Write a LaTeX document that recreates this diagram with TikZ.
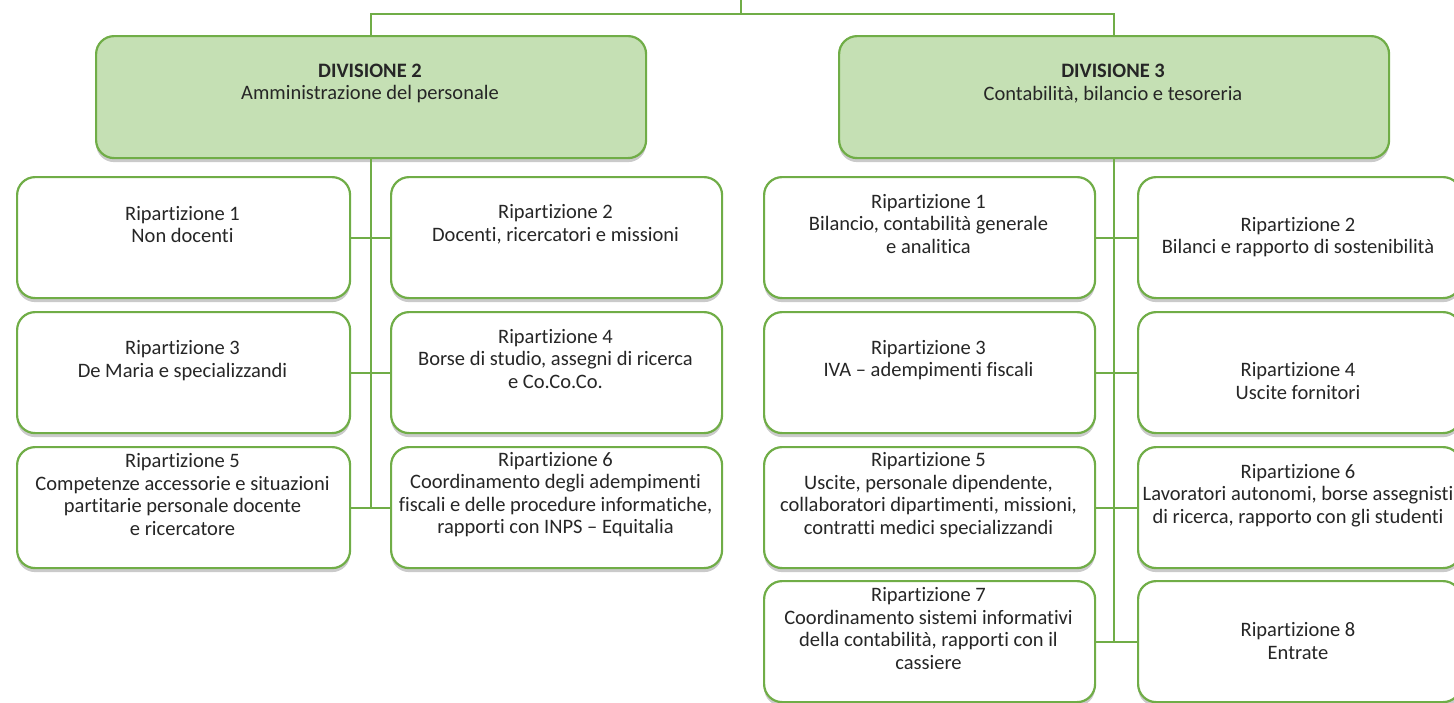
\documentclass[tikz,border=0pt]{standalone}
\usepackage{fontspec}
\setmainfont{Carlito}[Ligatures={NoCommon}]
\usetikzlibrary{shadows}
\definecolor{gborder}{HTML}{70AD47}
\definecolor{gfill}{HTML}{C5E0B4}
\definecolor{txt}{HTML}{262626}
\tikzset{
 boxbase/.style={draw=gborder, line width=2.2pt, rounded corners=18pt,
   drop shadow={shadow xshift=0pt, shadow yshift=-4pt, opacity=0.35, fill=black!60},
   anchor=north west, inner sep=0pt},
 divbox/.style={boxbase, fill=gfill},
 ripbox/.style={boxbase, fill=white},
 lbl/.style={align=center, font=\fontsize{20.5}{22.5}\selectfont, text=txt, inner sep=0pt},
 conn/.style={draw=gborder, line width=2pt}
}
\begin{document}
\begin{tikzpicture}[x=1pt,y=-1pt]
\useasboundingbox (0,0) rectangle (1454,702);
\clip (0,0) rectangle (1454,702);
% boxes
\node[divbox, minimum width=550pt, minimum height=122pt] (D2) at (95,35) {};
\node[divbox, minimum width=550pt, minimum height=122pt] (D3) at (838,35) {};
\node[ripbox, minimum width=333pt, minimum height=121pt] (L1) at (16,176) {};
\node[ripbox, minimum width=331pt, minimum height=121pt] (L2) at (390,176) {};
\node[ripbox, minimum width=333pt, minimum height=121pt] (L3) at (16,311) {};
\node[ripbox, minimum width=331pt, minimum height=121pt] (L4) at (390,311) {};
\node[ripbox, minimum width=333pt, minimum height=121pt] (L5) at (16,446) {};
\node[ripbox, minimum width=331pt, minimum height=121pt] (L6) at (390,446) {};
\node[ripbox, minimum width=331pt, minimum height=121pt] (R1) at (763,176) {};
\node[ripbox, minimum width=323pt, minimum height=121pt] (R2) at (1137,176) {};
\node[ripbox, minimum width=331pt, minimum height=121pt] (R3) at (763,311) {};
\node[ripbox, minimum width=323pt, minimum height=121pt] (R4) at (1137,311) {};
\node[ripbox, minimum width=331pt, minimum height=121pt] (R5) at (763,446) {};
\node[ripbox, minimum width=323pt, minimum height=121pt] (R6) at (1137,446) {};
\node[ripbox, minimum width=331pt, minimum height=121pt] (R7) at (763,580) {};
\node[ripbox, minimum width=323pt, minimum height=121pt] (R8) at (1137,580) {};
% connectors
\coordinate (top) at (741,0);
\coordinate (tj) at (741,14);
\draw[conn] (top) -- (tj);
\draw[conn] (tj) -| (D2.north);
\draw[conn] (tj) -| (D3.north);
\draw[conn] (D2.south) -- (D2.south |- L5.east);
\draw[conn] (L1.east) -- (L2.west);
\draw[conn] (L3.east) -- (L4.west);
\draw[conn] (L5.east) -- (L6.west);
\draw[conn] (D3.south) -- (D3.south |- R7.east);
\draw[conn] (R1.east) -- (R2.west);
\draw[conn] (R3.east) -- (R4.west);
\draw[conn] (R5.east) -- (R6.west);
\draw[conn] (R7.east) -- (R8.west);
% texts
\node[lbl] (D2t) at (370,83.5) {\textbf{DIVISIONE 2}\\Amministrazione del personale};
\node[lbl] (D3t) at (1113,83.5) {\textbf{DIVISIONE 3}\\Contabilità, bilancio e tesoreria};
\node[lbl] (L1t) at (182.5,224.5) {Ripartizione 1\\Non docenti};
\node[lbl] (L2t) at (555.5,224.5) {Ripartizione 2\\Docenti, ricercatori e missioni};
\node[lbl] (L3t) at (182.5,360.5) {Ripartizione 3\\De Maria e specializzandi};
\node[lbl] (L4t) at (555.5,359) {Ripartizione 4\\Borse di studio, assegni di ricerca\\e Co.Co.Co.};
\node[lbl] (L5t) at (182.5,494.5) {Ripartizione 5\\Competenze accessorie e situazioni\\partitarie personale docente\\e ricercatore};
\node[lbl] (L6t) at (555.5,494.5) {Ripartizione 6\\Coordinamento degli adempimenti\\fiscali e delle procedure informatiche,\\rapporti con INPS – Equitalia};
\node[lbl] (R1t) at (928.5,224) {Ripartizione 1\\Bilancio, contabilità generale\\e analitica};
\node[lbl] (R3t) at (928.5,360) {Ripartizione 3\\IVA – adempimenti fiscali};
\node[lbl] (R5t) at (928.5,495) {Ripartizione 5\\Uscite, personale dipendente,\\collaboratori dipartimenti, missioni,\\contratti medici specializzandi};
\node[lbl] (R7t) at (928.5,628.5) {Ripartizione 7\\Coordinamento sistemi informativi\\della contabilità, rapporti con il\\cassiere};
\node[lbl] (R2t) at (1298,237) {Ripartizione 2\\Bilanci e rapporto di sostenibilità};
\node[lbl] (R4t) at (1298,381) {Ripartizione 4\\Uscite fornitori};
\node[lbl] (R6t) at (1298,495.5) {Ripartizione 6\\Lavoratori autonomi, borse assegnisti\\di ricerca, rapporto con gli studenti};
\node[lbl] (R8t) at (1298,641) {Ripartizione 8\\Entrate};
\end{tikzpicture}
\end{document}
